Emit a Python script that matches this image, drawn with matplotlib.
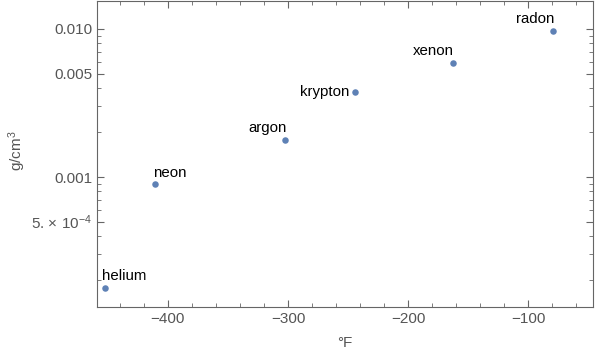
import matplotlib
matplotlib.use("Agg")
import matplotlib.pyplot as plt
from matplotlib.ticker import FixedLocator, FixedFormatter, NullFormatter

# noble gases: boiling point (F) vs density (g/cm3)
elements = ['helium', 'neon', 'argon', 'krypton', 'xenon', 'radon']
boil_f = [-452.1, -410.9, -302.5, -244.1, -162.6, -79.1]
density = [0.0001786, 0.0009002, 0.001784, 0.003749, 0.005894, 0.00973]

# label placement (offset in pixels, alignment)
label_pos = {
    'helium': ((-3, 5), 'left', 'bottom'),
    'neon': ((-2, 4), 'left', 'bottom'),
    'argon': ((2, 5), 'right', 'bottom'),
    'krypton': ((-6, 0), 'right', 'center'),
    'xenon': ((1, 5), 'right', 'bottom'),
    'radon': ((1, 5), 'right', 'bottom'),
}

plt.rcParams['font.family'] = ['Liberation Sans', 'DejaVu Sans']
plt.rcParams['mathtext.fontset'] = 'custom'
plt.rcParams['mathtext.rm'] = 'Liberation Sans'
plt.rcParams['mathtext.it'] = 'Liberation Sans'
fig = plt.figure(figsize=(6, 3.56), dpi=100)
ax = fig.add_axes([97/600, 49/356, 496/600, 306/356])

ax.scatter(boil_f, density, s=22, color='#5e81b5', zorder=3, linewidths=0)
for name, x, y in zip(elements, boil_f, density):
    off, ha, va = label_pos[name]
    ax.annotate(name, (x, y), xytext=off, textcoords='offset pixels',
                ha=ha, va=va, fontsize=10.8, color='black')

ax.set_yscale('log')
ax.set_xlim(-459, -46)
ax.set_ylim(1.324e-4, 0.01545)

ax.xaxis.set_major_locator(FixedLocator([-400, -300, -200, -100]))
ax.xaxis.set_minor_locator(FixedLocator(list(range(-440, -40, 20))))
ax.yaxis.set_major_locator(FixedLocator([5e-4, 0.001, 0.005, 0.01]))
ax.yaxis.set_major_formatter(FixedFormatter(['5. \u00d7 10$^{\u22124}$', '0.001', '0.005', '0.010']))
ax.yaxis.set_minor_locator(FixedLocator([2e-4, 3e-4, 4e-4, 6e-4, 7e-4, 8e-4, 9e-4,
                                         0.002, 0.003, 0.004, 0.006, 0.007, 0.008, 0.009]))
ax.yaxis.set_minor_formatter(NullFormatter())
ax.set_xticklabels(['\u2212400', '\u2212300', '\u2212200', '\u2212100'])

for sp in ax.spines.values():
    sp.set_color('#666666')
ax.tick_params(which='both', direction='in', top=True, right=True,
               colors='#666666', labelcolor='#555555', labelsize=11)
ax.tick_params(which='major', length=5)
ax.tick_params(which='minor', length=3)

ax.set_xlabel('\u00b0F', color='#555555', fontsize=11)
ax.set_ylabel('g/cm$^3$', color='#555555', fontsize=11)
ax.xaxis.set_label_coords(0.5, -0.095)
ax.yaxis.set_label_coords(-0.14, 0.51)

fig.savefig('out.png', dpi=100)
